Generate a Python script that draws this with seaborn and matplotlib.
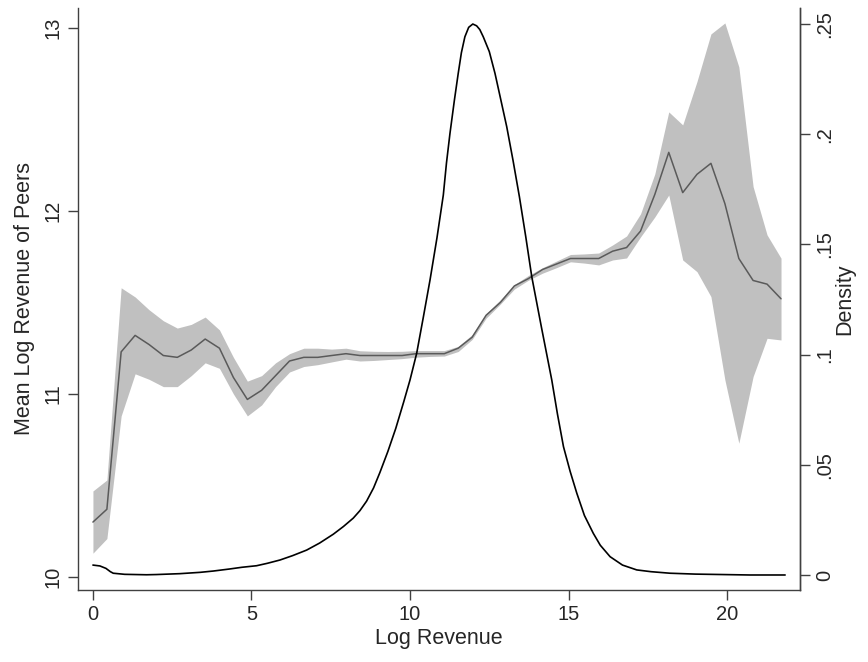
import numpy as np
import pandas as pd
import seaborn as sns
import matplotlib
matplotlib.use('Agg')
from matplotlib import pyplot as plt

# bins of log revenue (x) with mean log revenue of peers and its band
log_rev = [0.00, 0.44, 0.89, 1.33, 1.77, 2.22, 2.66, 3.10, 3.54, 3.99,
           4.43, 4.87, 5.32, 5.76, 6.20, 6.65, 7.09, 7.53, 7.98, 8.42,
           8.86, 9.30, 9.75, 10.19, 10.63, 11.08, 11.52, 11.96, 12.40, 12.85,
           13.29, 13.73, 14.18, 14.62, 15.06, 15.50, 15.95, 16.39, 16.83, 17.27,
           17.72, 18.16, 18.60, 19.05, 19.49, 19.93, 20.37, 20.82, 21.26, 21.70]
peer_mean = [10.30, 10.37, 11.23, 11.32, 11.27, 11.21, 11.20, 11.24, 11.30, 11.25,
             11.09, 10.97, 11.02, 11.10, 11.18, 11.20, 11.20, 11.21, 11.22, 11.21,
             11.21, 11.21, 11.21, 11.22, 11.22, 11.22, 11.25, 11.31, 11.43, 11.50,
             11.59, 11.63, 11.68, 11.71, 11.74, 11.74, 11.74, 11.78, 11.80, 11.89,
             12.09, 12.32, 12.10, 12.20, 12.26, 12.04, 11.74, 11.62, 11.60, 11.52]
peer_lo = [10.13, 10.21, 10.88, 11.11, 11.08, 11.04, 11.04, 11.10, 11.17, 11.14,
           11.00, 10.88, 10.94, 11.04, 11.12, 11.15, 11.16, 11.175, 11.19, 11.18,
           11.183, 11.188, 11.193, 11.201, 11.205, 11.207, 11.232, 11.298, 11.414, 11.491,
           11.573, 11.621, 11.66, 11.69, 11.722, 11.715, 11.705, 11.732, 11.743, 11.858,
           11.967, 12.087, 11.732, 11.668, 11.532, 11.077, 10.731, 11.095, 11.304, 11.295]
peer_hi = [10.47, 10.53, 11.58, 11.53, 11.46, 11.40, 11.36, 11.38, 11.42, 11.35,
           11.20, 11.07, 11.10, 11.17, 11.22, 11.25, 11.25, 11.245, 11.25, 11.236,
           11.233, 11.232, 11.233, 11.237, 11.237, 11.237, 11.26, 11.324, 11.438, 11.515,
           11.597, 11.647, 11.69, 11.726, 11.762, 11.765, 11.77, 11.814, 11.863, 11.984,
           12.202, 12.541, 12.47, 12.707, 12.967, 13.027, 12.787, 12.133, 11.869, 11.742]

# kernel density of log revenue
dens_x = [0.00, 0.22, 0.41, 0.55, 0.64, 1.00, 1.69, 2.00, 2.74, 3.38,
          3.80, 4.30, 4.70, 5.16, 5.50, 5.90, 6.30, 6.74, 7.15, 7.58,
          7.90, 8.21, 8.42, 8.63, 8.85, 9.05, 9.30, 9.55, 9.80, 10.00,
          10.21, 10.42, 10.63, 10.85, 11.05, 11.15, 11.26, 11.40, 11.52, 11.62,
          11.73, 11.85, 11.98, 12.10, 12.20, 12.31, 12.50, 12.68, 12.85, 13.05,
          13.25, 13.45, 13.65, 13.84, 14.15, 14.47, 14.65, 14.84, 15.05, 15.26,
          15.50, 15.78, 16.00, 16.31, 16.70, 17.15, 17.60, 18.20, 19.00, 20.72, 21.83]
dens_y = [0.0045, 0.0041, 0.0030, 0.0015, 0.0008, 0.0003, 0.0001, 0.0002, 0.0006, 0.0012,
          0.0018, 0.0027, 0.0035, 0.0042, 0.0053, 0.0068, 0.0088, 0.0113, 0.0145, 0.0185,
          0.0220, 0.0258, 0.0292, 0.0335, 0.0395, 0.0465, 0.0560, 0.0665, 0.0785, 0.0885,
          0.1006, 0.1170, 0.1338, 0.1530, 0.1724, 0.1870, 0.2004, 0.2155, 0.2276, 0.2370,
          0.2442, 0.2485, 0.2500, 0.2492, 0.2475, 0.2442, 0.2375, 0.2276, 0.2165, 0.2034,
          0.1880, 0.1716, 0.1535, 0.1353, 0.1120, 0.0885, 0.0730, 0.0582, 0.0470, 0.0371,
          0.0270, 0.0189, 0.0135, 0.0083, 0.0045, 0.0023, 0.0015, 0.0008, 0.0004, 0.0000, 0.0000]

x_ticks = [0, 5, 10, 15, 20]
left_ticks = [10, 11, 12, 13]
right_ticks = [0, 0.05, 0.10, 0.15, 0.20, 0.25]
right_labels = ['0', '.05', '.1', '.15', '.2', '.25']

peers = pd.DataFrame({'x': log_rev, 'mean': peer_mean, 'lo': peer_lo, 'hi': peer_hi})
dens = pd.DataFrame({'x': dens_x, 'd': dens_y})

sns.set_style('white')
plt.rcParams['font.family'] = ['Liberation Sans', 'DejaVu Sans']

fig = plt.figure(figsize=(8.68, 6.62), dpi=100)
ax = fig.add_axes([0.0899, 0.1088, 0.8318, 0.8792])

ax.fill_between(peers['x'], peers['lo'], peers['hi'], color='#c0c0c0', lw=0, zorder=1)
sns.lineplot(data=peers, x='x', y='mean', ax=ax, color='#5a5a5a', lw=1.1, zorder=2)

ax2 = ax.twinx()
sns.lineplot(data=dens, x='x', y='d', ax=ax2, color='black', lw=1.2)

ax.set_xlim(-0.47, 22.30)
ax.set_ylim(9.929, 13.109)
ax2.set_ylim(-0.0068, 0.2573)

ax.set_xticks(x_ticks)
ax.set_yticks(left_ticks)
ax2.set_yticks(right_ticks)
ax2.set_yticklabels(right_labels)

for a in (ax, ax2):
    a.spines['top'].set_visible(False)
    for s in a.spines.values():
        s.set_color('#404040')
        s.set_linewidth(1.0)
ax2.spines['left'].set_visible(False)
ax2.spines['bottom'].set_visible(False)

ax.tick_params(axis='both', direction='out', length=7, width=1, color='#404040',
               labelsize=14.5, pad=4, bottom=True, left=True)
ax.tick_params(axis='y', labelrotation=90)
ax2.tick_params(axis='y', direction='out', length=7, width=1, color='#404040',
                labelsize=14.5, pad=4, right=True, labelrotation=90)
for lab in ax.get_yticklabels() + ax2.get_yticklabels():
    lab.set_verticalalignment('center')

ax.set_xlabel('Log Revenue', fontsize=15.5, labelpad=3)
ax.set_ylabel('Mean Log Revenue of Peers', fontsize=15.5, labelpad=6)
ax2.set_ylabel('Density', fontsize=15.5, labelpad=0)

fig.savefig('out.png', dpi=100)
